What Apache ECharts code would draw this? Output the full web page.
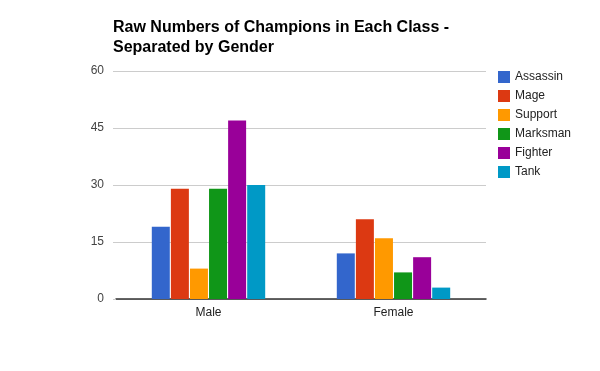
<!DOCTYPE html>
<html><head><meta charset="utf-8">
<script src="https://cdn.jsdelivr.net/npm/echarts@6/dist/echarts.min.js"></script>
<style>html,body{margin:0;padding:0;background:#fff}#c{width:600px;height:371px}</style>
</head><body><div id="c"></div>
<script>
const categories = ['Male', 'Female'];
const assassin = [19, 12];
const mage = [29, 21];
const support = [8, 16];
const marksman = [29, 7];
const fighter = [47, 11];
const tank = [30, 3];
const seriesNames = ['Assassin', 'Mage', 'Support', 'Marksman', 'Fighter', 'Tank'];
const seriesData = [assassin, mage, support, marksman, fighter, tank];
const colors = ['#3366cc', '#dc3912', '#ff9900', '#109618', '#990099', '#0099c6'];
const yTicks = [0, 15, 30, 45, 60];

const chart = echarts.init(document.getElementById('c'), null, {renderer: 'canvas'});
chart.setOption({
  animation: false,
  color: colors,
  title: {
    text: 'Raw Numbers of Champions in Each Class -\nSeparated by Gender',
    left: 108, top: 13,
    textStyle: {fontFamily: 'Liberation Sans, Arial', fontSize: 16, fontWeight: 'bold', color: '#000', lineHeight: 20}
  },
  legend: {
    orient: 'vertical', left: 493, top: 66,
    itemWidth: 12, itemHeight: 12, itemGap: 7,
    icon: 'rect',
    textStyle: {fontFamily: 'Liberation Sans, Arial', fontSize: 12, color: '#222'},
    data: seriesNames
  },
  grid: {left: 116, right: 114, top: 71, bottom: 72},
  xAxis: {
    type: 'category', data: categories,
    axisLine: {lineStyle: {color: '#333', width: 1.5}},
    axisTick: {show: false},
    axisLabel: {fontFamily: 'Liberation Sans, Arial', fontSize: 12, color: '#222', margin: 8}
  },
  yAxis: {
    type: 'value', min: yTicks[0], max: yTicks[yTicks.length - 1], interval: 15,
    axisLine: {show: false},
    axisTick: {show: true, length: 3, lineStyle: {color: '#ccc'}},
    splitLine: {lineStyle: {color: '#ccc', width: 1}},
    axisLabel: {fontFamily: 'Liberation Sans, Arial', fontSize: 12, color: '#444', margin: 12}
  },
  series: seriesNames.map((n, i) => ({
    name: n, type: 'bar', data: seriesData[i],
    barWidth: 18, barGap: '6%'
  }))
});
</script></body></html>
